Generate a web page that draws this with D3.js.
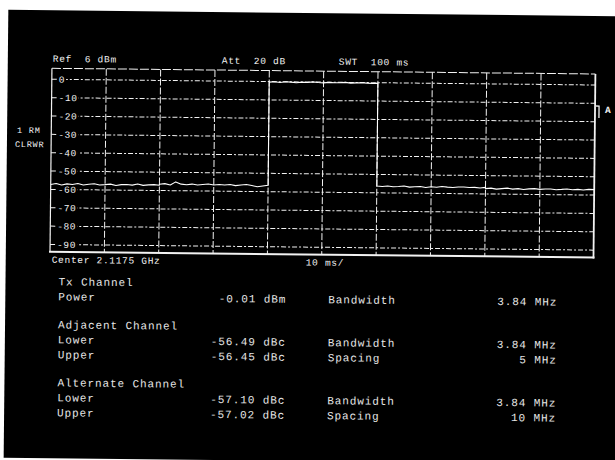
<!DOCTYPE html>
<html>
<head>
<meta charset="utf-8">
<script src="https://cdn.jsdelivr.net/npm/d3@7"></script>
<style>
  html, body { margin: 0; padding: 0; background: #fff; }
  svg { display: block; }
</style>
</head>
<body>
<svg id="chart" width="615" height="460"></svg>
<script>
// ---- Display settings / axis ticks ----
const levelTicks = [0, -10, -20, -30, -40, -50, -60, -70, -80, -90]; // dBm, 10 dB/div
const levelDomain = [-94, 6];                                          // Ref 6 dBm at top
const timeDomain = [0, 100];                                           // ms, 10 ms/div
const timeTicks = [0, 10, 20, 30, 40, 50, 60, 70, 80, 90, 100];

const headerLabels = ["Ref  6 dBm", "Att  20 dB", "SWT  100 ms"];
const footerLabels = ["Center 2.1175 GHz", "10 ms/"];
const traceLabels = ["1 RM", "CLRWR"];

// ---- Trace: one block of samples per channel (1 ms spacing, dBm) ----
const channelStart = [0, 20, 40, 60, 80];
const lowerAltTrace = [-57.3, -56.8, -57.5, -56.9, -57.2, -56.6, -57.4, -57.0, -56.7, -57.3, -57.1,
                       -56.8, -57.5, -57.0, -56.9, -57.2, -56.6, -57.3, -57.0, -56.8, -57.1];
const lowerAdjTrace = [-56.6, -56.2, -56.9, -55.2, -56.4, -56.7, -56.3, -56.8, -56.5, -56.2, -56.7,
                       -56.4, -56.6, -56.3, -56.9, -56.5, -56.2, -56.7, -57.4, -56.9, -56.5];
const txTrace       = [-0.3, -0.1, -0.4, 0.0, -0.2, -0.5, -0.1, -0.3, 0.1, -0.2, -0.4,
                       -0.1, -0.3, -0.2, 0.0, -0.4, -0.2, -0.1, -0.3, -0.5, -0.2];
const upperAdjTrace = [-56.3, -56.5, -56.2, -56.6, -56.4, -56.1, -56.7, -56.5, -56.3, -56.8, -56.4,
                       -56.6, -56.2, -56.5, -56.7, -56.4, -56.3, -56.6, -56.5, -56.8, -56.4];
const upperAltTrace = [-57.1, -56.8, -57.3, -57.0, -56.7, -57.2, -56.9, -57.4, -57.0, -56.8, -57.2,
                       -57.0, -56.9, -57.3, -57.1, -56.8, -57.2, -57.0, -57.3, -56.9, -57.0];

// ---- Measurement table ----
const tableSections = ["Tx Channel", "Adjacent Channel", "Alternate Channel"];
const rowLabels     = ["Power", "Lower", "Upper", "Lower", "Upper"];
const rowValues     = ["-0.01 dBm", "-56.49 dBc", "-56.45 dBc", "-57.10 dBc", "-57.02 dBc"];
const paramNames    = ["Bandwidth", "Bandwidth", "Spacing", "Bandwidth", "Spacing"];
const paramValues   = ["3.84 MHz", "3.84 MHz", "5 MHz", "3.84 MHz", "10 MHz"];

// ---- Layout ----
const plot = { left: 50.2, right: 593.7, top: 71, bottom: 254.5 };
const ink = "#f2f2f2";
const monoFont = "'Liberation Mono', 'DejaVu Sans Mono', monospace";

const svg = d3.select("#chart");
// the screen is photographed slightly tilted
const screen = svg.append("g").attr("transform", "rotate(0.6, 310, 235)");

screen.append("rect")
  .attr("x", 6).attr("y", 13).attr("width", 640).attr("height", 448)
  .attr("fill", "#000");

const x = d3.scaleLinear().domain(timeDomain).range([plot.left, plot.right]);
const y = d3.scaleLinear().domain(levelDomain).range([plot.bottom, plot.top]);

// vertical grid (time divisions)
screen.append("g").selectAll("line")
  .data(timeTicks.slice(1, -1))
  .join("line")
  .attr("x1", d => x(d)).attr("x2", d => x(d))
  .attr("y1", plot.top).attr("y2", plot.bottom)
  .attr("stroke", ink).attr("stroke-width", 1)
  .attr("stroke-dasharray", "7,2");

// horizontal grid (level divisions)
screen.append("g").selectAll("line")
  .data(levelTicks)
  .join("line")
  .attr("x1", plot.left).attr("x2", plot.right)
  .attr("y1", d => y(d)).attr("y2", d => y(d))
  .attr("stroke", ink).attr("stroke-width", 1)
  .attr("stroke-dasharray", "5,2,2,2");

// level labels sitting on the grid lines
const levelLabel = screen.append("g").selectAll("g")
  .data(levelTicks)
  .join("g")
  .attr("transform", d => `translate(${plot.left + 7},${y(d)})`);
levelLabel.append("rect")
  .attr("x", -1).attr("y", -5).attr("height", 10)
  .attr("width", d => String(d).length * 6.3 + 2)
  .attr("fill", "#000");
levelLabel.append("text")
  .attr("dy", "0.35em")
  .attr("font-family", monoFont).attr("font-size", 9.5)
  .attr("letter-spacing", 0.6)
  .attr("fill", ink)
  .text(d => String(d));

// frame
screen.append("line")
  .attr("x1", plot.left).attr("x2", plot.right).attr("y1", plot.top).attr("y2", plot.top)
  .attr("stroke", ink).attr("stroke-width", 1).attr("stroke-dasharray", "9,2");
screen.append("line")
  .attr("x1", plot.left).attr("x2", plot.left).attr("y1", plot.top).attr("y2", plot.bottom)
  .attr("stroke", ink).attr("stroke-width", 1.2);
screen.append("line")
  .attr("x1", plot.right).attr("x2", plot.right).attr("y1", plot.top).attr("y2", plot.bottom + 1)
  .attr("stroke", ink).attr("stroke-width", 1.8);
screen.append("line")
  .attr("x1", plot.left - 1).attr("x2", plot.right + 1).attr("y1", plot.bottom).attr("y2", plot.bottom)
  .attr("stroke", ink).attr("stroke-width", 2);

// trace: channel blocks laid end to end, steps drawn vertically at block edges
const blocks = [lowerAltTrace, lowerAdjTrace, txTrace, upperAdjTrace, upperAltTrace];
const tracePoints = blocks.flatMap((vals, i) =>
  vals.map((v, k) => ({ t: channelStart[i] + k, level: v })));

screen.append("path")
  .datum(tracePoints)
  .attr("fill", "none")
  .attr("stroke", "#fff")
  .attr("stroke-width", 1.1)
  .attr("stroke-linejoin", "round")
  .attr("d", d3.line().x(d => x(d.t)).y(d => y(d.level)));

// trigger/level marker on the right edge
screen.append("path")
  .attr("d", `M${plot.right + 1},${plot.top + 32} h3 v12`)
  .attr("fill", "none").attr("stroke", ink).attr("stroke-width", 1.3);
screen.append("text")
  .attr("x", plot.right + 10).attr("y", plot.top + 39)
  .attr("font-family", monoFont).attr("font-size", 9.5).attr("font-weight", "bold")
  .attr("fill", ink).text("A");

// header line
const headerX = [51, 220, 337];
screen.append("g").selectAll("text")
  .data(headerLabels)
  .join("text")
  .attr("x", (d, i) => headerX[i]).attr("y", 64.5)
  .attr("font-family", monoFont).attr("font-size", 9.5)
  .attr("letter-spacing", 0.7).attr("fill", ink)
  .attr("xml:space", "preserve").style("white-space", "pre")
  .text(d => d);

// footer line under the graticule
const footerX = [52, 306];
screen.append("g").selectAll("text")
  .data(footerLabels)
  .join("text")
  .attr("x", (d, i) => footerX[i]).attr("y", 265.5)
  .attr("font-family", monoFont).attr("font-size", 9.5)
  .attr("letter-spacing", 0.7).attr("fill", ink)
  .style("white-space", "pre")
  .text(d => d);

// trace mode labels, left of the graticule
screen.append("g").selectAll("text")
  .data(traceLabels)
  .join("text")
  .attr("x", (d, i) => i === 0 ? 16 : 14).attr("y", (d, i) => 136 + i * 14)
  .attr("font-family", monoFont).attr("font-size", 8.5)
  .attr("letter-spacing", 0.8).attr("fill", ink)
  .style("white-space", "pre")
  .text(d => d);

// measurement table
const sectionY = [288, 331, 389];
const rowY = [303, 346, 361, 404, 419];
const tableFont = { size: 11, spacing: 0.9, color: "#e6e6e6" };

function tableText(sel) {
  return sel.attr("font-family", monoFont)
    .attr("font-size", tableFont.size)
    .attr("letter-spacing", tableFont.spacing)
    .attr("fill", tableFont.color)
    .style("white-space", "pre");
}

const table = screen.append("g");
tableText(table.selectAll(".section").data(tableSections).join("text")
  .attr("class", "section")
  .attr("x", 59).attr("y", (d, i) => sectionY[i])
  .text(d => d));
tableText(table.selectAll(".rowLabel").data(rowLabels).join("text")
  .attr("class", "rowLabel")
  .attr("x", 59).attr("y", (d, i) => rowY[i])
  .text(d => d));
tableText(table.selectAll(".rowValue").data(rowValues).join("text")
  .attr("class", "rowValue")
  .attr("x", 287).attr("y", (d, i) => rowY[i])
  .attr("text-anchor", "end")
  .text(d => d));
tableText(table.selectAll(".paramName").data(paramNames).join("text")
  .attr("class", "paramName")
  .attr("x", 329).attr("y", (d, i) => rowY[i])
  .text(d => d));
tableText(table.selectAll(".paramValue").data(paramValues).join("text")
  .attr("class", "paramValue")
  .attr("x", 558).attr("y", (d, i) => rowY[i])
  .attr("text-anchor", "end")
  .text(d => d));
</script>
</body>
</html>
